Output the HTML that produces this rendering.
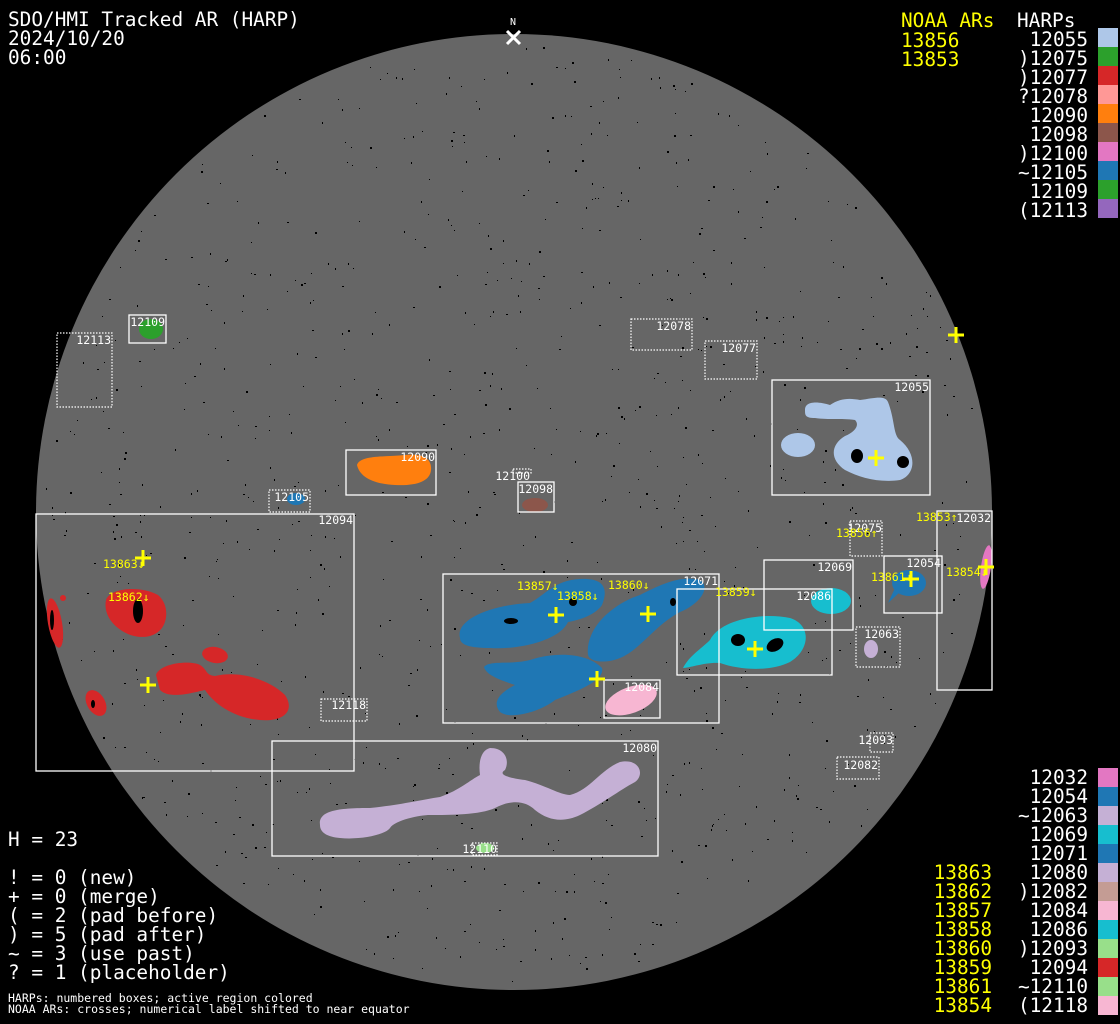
<!DOCTYPE html>
<html><head><meta charset="utf-8"><style>
html,body{margin:0;padding:0;background:#000;width:1120px;height:1024px;overflow:hidden}
svg{display:block}
text{font-family:"DejaVu Sans Mono","Liberation Mono",monospace}
.big{font-size:19.4px}
.sm{font-size:11.5px}
.w{fill:#fff}.y{fill:#ffff00}
.bx{fill:none;stroke:#fff;stroke-width:1.3}
.dt{fill:none;stroke:#fff;stroke-width:1.2;stroke-dasharray:1.5 1.5}
.cr{stroke:#ffff00;stroke-width:3}
</style></head><body>
<svg id="s" width="1120" height="1024" viewBox="0 0 1120 1024" xmlns="http://www.w3.org/2000/svg">
<circle cx="514" cy="512" r="478" fill="#666"/>
<g id="speck" fill="#000"></g>
<g fill="#d62728">
<path d="M106,600 C110,588 140,585 158,595 C170,605 168,625 158,632 C148,640 130,638 118,628 C108,620 104,610 106,600 Z"/>
<ellipse cx="55" cy="623" rx="7" ry="25" transform="rotate(-10 55 623)"/>
<circle cx="63" cy="598" r="3"/>
<ellipse cx="96" cy="703" rx="9" ry="14" transform="rotate(-30 96 703)"/>
<ellipse cx="215" cy="655" rx="13" ry="8" transform="rotate(10 215 655)"/>
<path d="M156,675 C160,663 190,660 200,665 C208,670 205,675 215,676 C240,670 270,680 285,695 C295,710 285,722 260,720 C235,718 215,705 205,690 C195,692 170,700 160,690 Z"/>
</g>
<g fill="#000"><ellipse cx="138" cy="611" rx="5" ry="12"/><ellipse cx="93" cy="704" rx="2" ry="4"/><ellipse cx="52" cy="620" rx="2" ry="10"/></g>
<g fill="#1f77b4">
<path d="M460,638 C455,620 490,605 530,603 C545,595 555,580 580,579 C600,578 610,585 602,605 C595,615 580,620 568,622 C560,640 520,650 490,648 C470,648 460,645 460,638 Z"/>
<path d="M588,655 C585,630 610,605 640,595 C660,585 680,575 700,580 C712,588 698,605 680,612 C655,625 640,650 620,658 C605,664 590,662 588,655 Z"/>
<path d="M484,667 C490,660 510,665 530,660 C560,650 590,655 602,668 C605,680 580,690 555,700 C540,712 510,720 500,712 C490,700 505,690 515,685 C500,680 486,675 484,667 Z"/>
<ellipse cx="909" cy="583" rx="17" ry="13"/><path d="M895,588 L888,603 L900,592 Z"/>
<ellipse cx="296" cy="499" rx="9" ry="6"/>
</g>
<g fill="#000"><ellipse cx="511" cy="621" rx="7" ry="3"/><ellipse cx="573" cy="602" rx="4" ry="4"/><ellipse cx="673" cy="602" rx="3" ry="4"/></g>
<ellipse cx="631" cy="700" rx="27" ry="13" transform="rotate(-20 631 700)" fill="#f7b6d2"/>
<g fill="#17becf">
<path d="M683,668 C690,655 700,650 710,640 C720,620 760,612 790,618 C812,625 810,650 790,662 C770,672 740,670 720,663 C705,662 690,668 683,668 Z"/>
<ellipse cx="831" cy="601" rx="20" ry="13"/>
</g>
<g fill="#000"><ellipse cx="738" cy="640" rx="7" ry="6"/><ellipse cx="775" cy="645" rx="9" ry="6" transform="rotate(-30 775 645)"/></g>
<ellipse cx="871" cy="649" rx="7" ry="9" fill="#c5b0d5"/>
<ellipse cx="986" cy="567" rx="5" ry="22" transform="rotate(8 986 567)" fill="#e377c2"/>
<g fill="#aec7e8">
<ellipse cx="798" cy="445" rx="17" ry="12"/>
<path d="M805,410 C805,400 820,402 830,405 C840,398 850,398 860,400 C875,398 885,395 888,402 C895,420 893,435 900,440 C918,455 915,475 900,480 C880,483 860,478 845,470 C830,460 830,445 845,436 C855,432 860,425 855,420 C840,418 830,420 815,418 C805,418 805,415 805,410 Z"/>
</g>
<g fill="#000"><ellipse cx="857" cy="456" rx="6" ry="7"/><ellipse cx="903" cy="462" rx="6" ry="6"/></g>
<path d="M357,465 C360,455 385,457 405,455 C425,453 432,460 431,470 C430,482 415,486 395,485 C375,484 360,478 357,465 Z" fill="#ff7f0e"/>
<ellipse cx="151" cy="329" rx="12" ry="10" fill="#2ca02c"/>
<ellipse cx="535" cy="505" rx="13" ry="7" fill="#8c564b"/>
<path d="M320,825 C318,810 340,808 370,808 C400,805 420,800 440,797 C460,790 470,780 480,775 C478,760 482,750 490,748 C505,748 510,760 505,770 C497,775 510,778 525,780 C545,785 560,795 570,795 C590,790 600,770 620,762 C640,758 645,775 635,782 C620,790 600,805 580,815 C565,822 550,822 535,810 C525,800 510,800 495,808 C480,815 450,815 430,815 C420,815 395,820 390,828 C385,835 360,840 340,838 C328,837 320,833 320,825 Z" fill="#c5b0d5"/>
<ellipse cx="485" cy="848" rx="9" ry="5" fill="#98df8a"/>
<g class="bx">
<rect x="36" y="514" width="318" height="257"/>
<rect x="272" y="741" width="386" height="115"/>
<rect x="443" y="574" width="276" height="149"/>
<rect x="604" y="680" width="56" height="38"/>
<rect x="677" y="589" width="155" height="86"/>
<rect x="764" y="560" width="89" height="70"/>
<rect x="884" y="556" width="58" height="57"/>
<rect x="937" y="511" width="55" height="179"/>
<rect x="772" y="380" width="158" height="115"/>
<rect x="129" y="315" width="37" height="28"/>
<rect x="346" y="450" width="90" height="45"/>
<rect x="518" y="482" width="36" height="30"/>
</g>
<g class="dt">
<rect x="856" y="627" width="44" height="40"/>
<rect x="850" y="521" width="32" height="35"/>
<rect x="870" y="733" width="23" height="19"/>
<rect x="837" y="757" width="42" height="22"/>
<rect x="631" y="319" width="61" height="31"/>
<rect x="705" y="341" width="52" height="38"/>
<rect x="57" y="333" width="55" height="74"/>
<rect x="269" y="490" width="41" height="22"/>
<rect x="513" y="469" width="18" height="4"/>
<rect x="321" y="699" width="46" height="22"/>
<rect x="472" y="843" width="25" height="12"/>
</g>
<g class="sm w" text-anchor="end">
<text x="353" y="524">12094</text><text x="657" y="752">12080</text><text x="718" y="585">12071</text>
<text x="659" y="691">12084</text><text x="831" y="600">12086</text><text x="852" y="571">12069</text>
<text x="941" y="567">12054</text><text x="991" y="522">12032</text><text x="929" y="391">12055</text>
<text x="165" y="326">12109</text><text x="435" y="461">12090</text><text x="553" y="493">12098</text>
<text x="899" y="638">12063</text><text x="882" y="532">12075</text><text x="893" y="744">12093</text>
<text x="878" y="769">12082</text><text x="691" y="330">12078</text><text x="756" y="352">12077</text>
<text x="111" y="344">12113</text><text x="309" y="501">12105</text><text x="530" y="480">12100</text>
<text x="366" y="709">12118</text><text x="497" y="853">12110</text>
</g>
<g class="sm y">
<text x="103" y="568">13863↓</text><text x="108" y="601">13862↓</text><text x="517" y="590">13857↓</text>
<text x="557" y="600">13858↓</text><text x="608" y="589">13860↓</text><text x="715" y="596">13859↓</text>
<text x="871" y="581">13861↓</text><text x="946" y="576">13854↓</text><text x="916" y="521">13853↑</text>
<text x="836" y="537">13856↑</text>
</g>
<g class="cr">
<path d="M948,335h16M956,327v16"/><path d="M868,458h16M876,450v16"/><path d="M135,558h16M143,550v16"/>
<path d="M140,685h16M148,677v16"/><path d="M548,615h16M556,607v16"/><path d="M640,614h16M648,606v16"/>
<path d="M589,679h16M597,671v16"/><path d="M747,649h16M755,641v16"/><path d="M903,579h16M911,571v16"/>
<path d="M978,567h16M986,559v16"/>
</g>
<text x="513" y="25" class="w" font-size="10" text-anchor="middle">N</text>
<path d="M507,31l13,13M520,31l-13,13" stroke="#fff" stroke-width="3"/>
<g class="big w"><text x="8" y="26">SDO/HMI Tracked AR (HARP)</text><text x="8" y="45">2024/10/20</text><text x="8" y="64">06:00</text></g>
<g class="big y"><text x="901" y="27">NOAA ARs</text><text x="901" y="47">13856</text><text x="901" y="66">13853</text></g>
<text x="1017" y="27" class="big w">HARPs</text>
<g id="tl" class="big w" text-anchor="end"></g>
<g id="bl" class="big" text-anchor="end"></g>
<g class="big w">
<text x="8" y="846">H = 23</text>
<text x="8" y="884">! = 0 (new)</text><text x="8" y="903">+ = 0 (merge)</text>
<text x="8" y="922">( = 2 (pad before)</text><text x="8" y="941">) = 5 (pad after)</text>
<text x="8" y="960">~ = 3 (use past)</text><text x="8" y="979">? = 1 (placeholder)</text>
</g>
<g class="sm w"><text x="8" y="1002">HARPs: numbered boxes; active region colored</text><text x="8" y="1013">NOAA ARs: crosses; numerical label shifted to near equator</text></g>
</svg>
<script>
(function(){
var NS="http://www.w3.org/2000/svg";
function el(p,t,a,txt){var e=document.createElementNS(NS,t);for(var k in a)e.setAttribute(k,a[k]);if(txt)e.textContent=txt;p.appendChild(e);return e;}
var topList=[["12055","#aec7e8"],[")12075","#2ca02c"],[")12077","#d62728"],["?12078","#ff9896"],["12090","#ff7f0e"],["12098","#8c564b"],[")12100","#e377c2"],["~12105","#1f77b4"],["12109","#2ca02c"],["(12113","#9467bd"]];
var s=document.getElementById("s"),tl=document.getElementById("tl"),bl=document.getElementById("bl");
topList.forEach(function(r,i){el(tl,"text",{x:1088,y:46+19*i},r[0]);el(s,"rect",{x:1098,y:28+19*i,width:20,height:19,fill:r[1]});});
var bot=[["12032","#e377c2",""],["12054","#1f77b4",""],["~12063","#c5b0d5",""],["12069","#17becf",""],["12071","#1f77b4",""],["12080","#c5b0d5","13863"],[")12082","#c49c94","13862"],["12084","#f7b6d2","13857"],["12086","#17becf","13858"],[")12093","#98df8a","13860"],["12094","#d62728","13859"],["~12110","#98df8a","13861"],["(12118","#f7b6d2","13854"]];
bot.forEach(function(r,i){var y=784+19*i;el(bl,"text",{x:1088,y:y,fill:"#fff"},r[0]);if(r[2])el(bl,"text",{x:992,y:y,fill:"#ff0"},r[2]);el(s,"rect",{x:1098,y:768+19*i,width:20,height:19,fill:r[1]});});
var sp=document.getElementById("speck"),seed=12345;function rnd(){seed=(seed*1103515245+12345)%2147483648;return seed/2147483648;}
for(var i=0;i<1400;i++){var x=36+rnd()*956,y=34+rnd()*956;var dx=x-514,dy=y-512;if(dx*dx+dy*dy>470*470)continue;el(sp,"rect",{x:x.toFixed(0),y:y.toFixed(0),width:rnd()<0.3?2:1,height:rnd()<0.4?2:1});}
})();
</script>
</body></html>
